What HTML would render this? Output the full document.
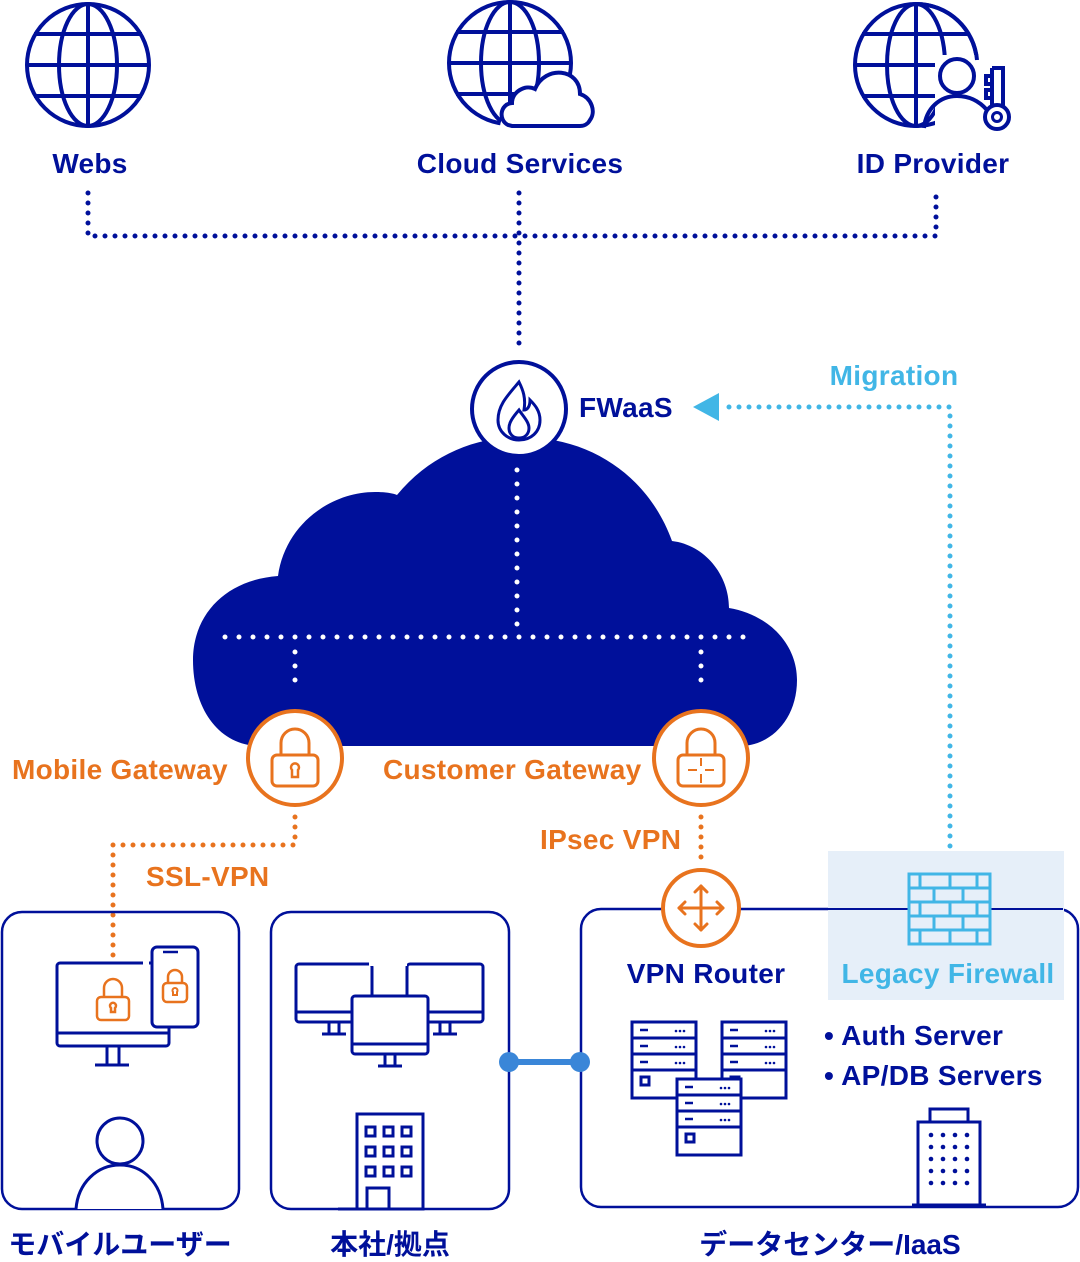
<!DOCTYPE html>
<html><head><meta charset="utf-8"><style>
html,body{margin:0;padding:0;background:#fff;}
svg{display:block;}
text{font-family:"Liberation Sans","Noto Sans CJK JP",sans-serif;font-weight:bold;}
</style></head><body>
<svg width="1080" height="1262" viewBox="0 0 1080 1262" xmlns="http://www.w3.org/2000/svg">
<defs>
<g id="globe" fill="none" stroke="#00109a" stroke-width="4">
<circle cx="0" cy="0" r="61"/>
<ellipse cx="0" cy="0" rx="29" ry="61"/>
<line x1="0" y1="-61" x2="0" y2="61"/>
<line x1="-54" y1="-31" x2="54" y2="-31"/>
<line x1="-61" y1="0" x2="61" y2="0"/>
<line x1="-54" y1="31" x2="54" y2="31"/>
</g>
<g id="server" fill="#fff" stroke="#00109a" stroke-width="3">
<rect x="0" y="0" width="64" height="76"/>
<line x1="0" y1="16" x2="64" y2="16"/><line x1="0" y1="32" x2="64" y2="32"/><line x1="0" y1="48" x2="64" y2="48"/>
<rect x="9" y="55" width="8" height="8"/>
<g stroke-width="2.5"><line x1="8" y1="8" x2="16" y2="8"/><line x1="8" y1="24" x2="16" y2="24"/><line x1="8" y1="40" x2="16" y2="40"/></g>
<g fill="#00109a" stroke="none"><circle cx="44" cy="9" r="1.3"/><circle cx="48" cy="9" r="1.3"/><circle cx="52" cy="9" r="1.3"/><circle cx="44" cy="25" r="1.3"/><circle cx="48" cy="25" r="1.3"/><circle cx="52" cy="25" r="1.3"/><circle cx="44" cy="41" r="1.3"/><circle cx="48" cy="41" r="1.3"/><circle cx="52" cy="41" r="1.3"/></g>
</g>
<g id="monitor" fill="#fff" stroke="#00109a" stroke-width="3">
<rect x="0" y="0" width="76" height="58" rx="3"/>
<line x1="0" y1="48" x2="76" y2="48"/>
<line x1="33" y1="58" x2="33" y2="70"/><line x1="43" y1="58" x2="43" y2="70"/>
<line x1="26" y1="70" x2="50" y2="70"/>
</g>
</defs>

<!-- top globes -->
<use href="#globe" x="88" y="65"/>
<g>
<use href="#globe" x="510" y="63"/>
<path d="M500 126 C505 96 540 110 545 100 C550 70 595 68 595 95 C600 100 602 112 596 120 L596 126 Z" fill="#fff" stroke="none"/>
<path d="M508 125 C498 120 500 104 512 103 C512 92 525 84 535 89 C545 65 580 68 580 94 C592 98 596 112 590 120 C588 124 584 126 580 126 L512 126 Z" fill="#fff" stroke="#00109a" stroke-width="4"/>
</g>
<g>
<use href="#globe" x="916" y="65"/>
<rect x="935" y="55" width="80" height="80" fill="#fff"/>
<path d="M916 4 A61 61 0 0 1 977 60" fill="none" stroke="#00109a" stroke-width="4"/>
<circle cx="957" cy="76" r="17" fill="#fff" stroke="#00109a" stroke-width="4"/>
<path d="M924 128 C926 108 940 96 957 96 C970 96 980 102 987 110" fill="none" stroke="#00109a" stroke-width="4"/>
<path d="M992 68 L1003 68 L1003 110 M992 68 L992 110 M992 76 L986 76 L986 84 L992 84 M992 90 L986 90 L986 98 L992 98" fill="none" stroke="#00109a" stroke-width="4"/>
<circle cx="997" cy="117" r="12" fill="#fff" stroke="#00109a" stroke-width="4"/>
<circle cx="997" cy="117" r="4.5" fill="none" stroke="#00109a" stroke-width="3"/>
</g>
<g font-size="28" fill="#00109a" text-anchor="middle" letter-spacing="0.3">
<text x="90" y="173">Webs</text>
<text x="520" y="173">Cloud Services</text>
<text x="933" y="173">ID Provider</text>
</g>

<!-- navy dotted top -->
<g stroke="#00109a" stroke-width="5" stroke-linecap="round" stroke-dasharray="0 10" fill="none">
<path d="M88 193 L88 236 L936 236 L936 190"/>
<path d="M519 193 L519 350"/>
</g>

<!-- cloud -->
<path d="M260 746 C220 746 193 710 193 660 C193 615 225 580 278 576 C285 525 330 492 375 492 C385 492 392 493 397 495 C430 455 475 437 520 437 C595 437 650 480 672 541 C705 545 729 575 729 608 C770 615 797 645 797 680 C797 720 770 746 740 746 Z" fill="#00109a"/>
<g stroke="#fff" stroke-width="5" stroke-linecap="round" stroke-dasharray="0 14" fill="none">
<path d="M517 470 L517 625"/>
<path d="M225 637 L745 637"/>
<path d="M295 652 L295 694"/>
<path d="M701 652 L701 694"/>
</g>

<!-- FWaaS -->
<circle cx="519" cy="409" r="47" fill="#fff" stroke="#00109a" stroke-width="4"/>
<path d="M519 382 C508 395 498 405 498 420 C498 432 508 440 519 440 C531 440 540 432 540 420 C540 411 535 405 530 400 C530 407 527 410 524 410 C526 398 523 390 519 382 Z" fill="none" stroke="#00109a" stroke-width="3"/>
<path d="M519 410 C512 418 509 423 509 428 C509 434 513 438 519 438 C525 438 529 434 529 428 C529 422 523 416 519 410 Z" fill="none" stroke="#00109a" stroke-width="3"/>
<text x="579" y="417" font-size="28" fill="#00109a" letter-spacing="0.3">FWaaS</text>

<!-- Migration -->
<path d="M693 407 L719 393 L719 421 Z" fill="#41b6e6"/>
<g stroke="#41b6e6" stroke-width="5" stroke-linecap="round" stroke-dasharray="0 10" fill="none">
<path d="M729 407 L950 407 L950 856"/>
</g>
<text x="894" y="385" font-size="28" fill="#41b6e6" text-anchor="middle" letter-spacing="0.3">Migration</text>

<!-- gateways -->
<g fill="#fff" stroke="#e8731e" stroke-width="4">
<circle cx="295" cy="758" r="47"/>
<circle cx="701" cy="758" r="47"/>
</g>
<g fill="none" stroke="#e8731e" stroke-width="3">
<path d="M281 755 L281 743 A14 14 0 0 1 309 743 L309 755"/>
<rect x="272" y="755" width="46" height="31" rx="5"/>
<path d="M292 777 L292 770 A4 4 0 1 1 298 770 L298 777 Z" stroke-width="2.5"/>
<path d="M687 755 L687 743 A14 14 0 0 1 715 743 L715 755"/>
<rect x="678" y="755" width="46" height="31" rx="5"/>
<g stroke-width="2"><line x1="701" y1="758" x2="701" y2="766"/><line x1="701" y1="774" x2="701" y2="783"/><line x1="688" y1="770" x2="697" y2="770"/><line x1="705" y1="770" x2="714" y2="770"/></g>
</g>
<g font-size="28" fill="#e8731e" letter-spacing="0.3">
<text x="12" y="779">Mobile Gateway</text>
<text x="383" y="779">Customer Gateway</text>
<text x="146" y="886">SSL-VPN</text>
<text x="540" y="849">IPsec VPN</text>
</g>
<g stroke="#e8731e" stroke-width="5" stroke-linecap="round" stroke-dasharray="0 10" fill="none">
<path d="M295 817 L295 845 L113 845 L113 960"/>
<path d="M701 817 L701 862"/>
</g>

<!-- boxes -->
<g fill="none" stroke="#00109a" stroke-width="2.5">
<rect x="2" y="912" width="237" height="297" rx="20"/>
<rect x="271" y="912" width="238" height="297" rx="20"/>
<rect x="581" y="909" width="497" height="298" rx="20"/>
</g>
<rect x="828" y="851" width="236" height="149" fill="#e6eff9"/>
<line x1="828" y1="909" x2="1063" y2="909" stroke="#00109a" stroke-width="2"/>

<!-- connector -->
<line x1="509" y1="1062" x2="580" y2="1062" stroke="#3a86d8" stroke-width="6"/>
<circle cx="509" cy="1062" r="10" fill="#3a86d8"/>
<circle cx="580" cy="1062" r="10" fill="#3a86d8"/>

<!-- VPN Router -->
<circle cx="701" cy="908" r="38" fill="#fff" stroke="#e8731e" stroke-width="4"/>
<g fill="none" stroke="#e8731e" stroke-width="3" stroke-linecap="round" stroke-linejoin="round">
<line x1="701" y1="886" x2="701" y2="930"/><line x1="679" y1="908" x2="723" y2="908"/>
<path d="M695 892 L701 886 L707 892"/><path d="M695 924 L701 930 L707 924"/>
<path d="M685 902 L679 908 L685 914"/><path d="M717 902 L723 908 L717 914"/>
</g>

<!-- firewall -->
<rect x="909" y="874" width="81" height="70" fill="#e6eff9"/>
<g fill="none" stroke="#41b6e6" stroke-width="3">
<rect x="909" y="874" width="81" height="70"/>
<line x1="909" y1="888" x2="990" y2="888"/><line x1="909" y1="902" x2="990" y2="902"/><line x1="909" y1="916" x2="990" y2="916"/><line x1="909" y1="930" x2="990" y2="930"/>
<path d="M920 874 V888 M950 874 V888 M977 874 V888 M934 888 V902 M963 888 V902 M920 902 V916 M950 902 V916 M977 902 V916 M934 916 V930 M963 916 V930 M920 930 V944 M950 930 V944 M977 930 V944"/>
</g>
<text x="706" y="983" font-size="28" fill="#00109a" text-anchor="middle" letter-spacing="0.3">VPN Router</text>
<text x="948" y="983" font-size="28" fill="#41b6e6" text-anchor="middle" letter-spacing="0.3">Legacy Firewall</text>

<!-- servers -->
<use href="#server" x="632" y="1022"/>
<use href="#server" x="722" y="1022"/>
<use href="#server" x="677" y="1079"/>
<g font-size="28" fill="#00109a" letter-spacing="0.3">
<text x="824" y="1045">• Auth Server</text>
<text x="824" y="1085">• AP/DB Servers</text>
</g>
<!-- DC building -->
<g fill="none" stroke="#00109a" stroke-width="3">
<rect x="930" y="1109" width="38" height="13"/>
<rect x="918" y="1122" width="62" height="83"/>
<line x1="912" y1="1205" x2="986" y2="1205"/>
</g>
<g fill="#00109a">
<circle cx="931" cy="1135" r="2.3"/><circle cx="943" cy="1135" r="2.3"/><circle cx="955" cy="1135" r="2.3"/><circle cx="967" cy="1135" r="2.3"/>
<circle cx="931" cy="1147" r="2.3"/><circle cx="943" cy="1147" r="2.3"/><circle cx="955" cy="1147" r="2.3"/><circle cx="967" cy="1147" r="2.3"/>
<circle cx="931" cy="1159" r="2.3"/><circle cx="943" cy="1159" r="2.3"/><circle cx="955" cy="1159" r="2.3"/><circle cx="967" cy="1159" r="2.3"/>
<circle cx="931" cy="1171" r="2.3"/><circle cx="943" cy="1171" r="2.3"/><circle cx="955" cy="1171" r="2.3"/><circle cx="967" cy="1171" r="2.3"/>
<circle cx="931" cy="1183" r="2.3"/><circle cx="943" cy="1183" r="2.3"/><circle cx="955" cy="1183" r="2.3"/><circle cx="967" cy="1183" r="2.3"/>
</g>

<!-- mobile user box -->
<g fill="#fff" stroke="#00109a" stroke-width="3">
<rect x="57" y="963" width="112" height="83" rx="3"/>
<line x1="57" y1="1033" x2="169" y2="1033"/>
<line x1="107" y1="1046" x2="107" y2="1065"/><line x1="119" y1="1046" x2="119" y2="1065"/>
<line x1="95" y1="1065" x2="129" y2="1065"/>
<rect x="152" y="947" width="46" height="80" rx="5"/>
<line x1="163" y1="952" x2="178" y2="952" stroke-width="2.5"/>
</g>
<rect x="143" y="958" width="6" height="7" fill="#fff"/>
<g fill="none" stroke="#e8731e" stroke-width="2.5">
<path d="M104 997 L104 988 A9 9 0 0 1 122 988 L122 997"/>
<rect x="97" y="997" width="32" height="23" rx="4"/>
<path d="M111 1012 L111 1008 A3 3 0 1 1 115 1008 L115 1012 Z"/>
<path d="M168 983 L168 977 A7 7 0 0 1 182 977 L182 983"/>
<rect x="163" y="983" width="24" height="19" rx="4"/>
<path d="M173 995 L173 992 A2.5 2.5 0 1 1 177 992 L177 995 Z" stroke-width="2"/>
</g>
<g fill="#fff" stroke="#00109a" stroke-width="3">
<circle cx="120" cy="1141" r="23"/>
<path d="M76 1209 C78 1183 97 1165 120 1165 C143 1165 161 1183 163 1209"/>
</g>

<!-- HQ box -->
<use href="#monitor" x="296" y="964"/>
<use href="#monitor" x="407" y="964"/>
<use href="#monitor" x="352" y="996"/>
<rect x="369" y="960" width="38" height="6" fill="#fff"/>
<g fill="none" stroke="#00109a" stroke-width="3">
<rect x="357" y="1114" width="66" height="95"/>
<line x1="338" y1="1209" x2="417" y2="1209"/>
<rect x="367" y="1188" width="22" height="21"/>
<rect x="366" y="1127" width="9" height="9"/><rect x="384" y="1127" width="9" height="9"/><rect x="402" y="1127" width="9" height="9"/>
<rect x="366" y="1147" width="9" height="9"/><rect x="384" y="1147" width="9" height="9"/><rect x="402" y="1147" width="9" height="9"/>
<rect x="366" y="1167" width="9" height="9"/><rect x="384" y="1167" width="9" height="9"/><rect x="402" y="1167" width="9" height="9"/>
</g>

<!-- bottom labels -->
<g font-size="28" fill="#00109a" text-anchor="middle">
<text x="120" y="1254">モバイルユーザー</text>
<text x="390" y="1254">本社/拠点</text>
<text x="830" y="1254">データセンター/IaaS</text>
</g>
</svg>
</body></html>
